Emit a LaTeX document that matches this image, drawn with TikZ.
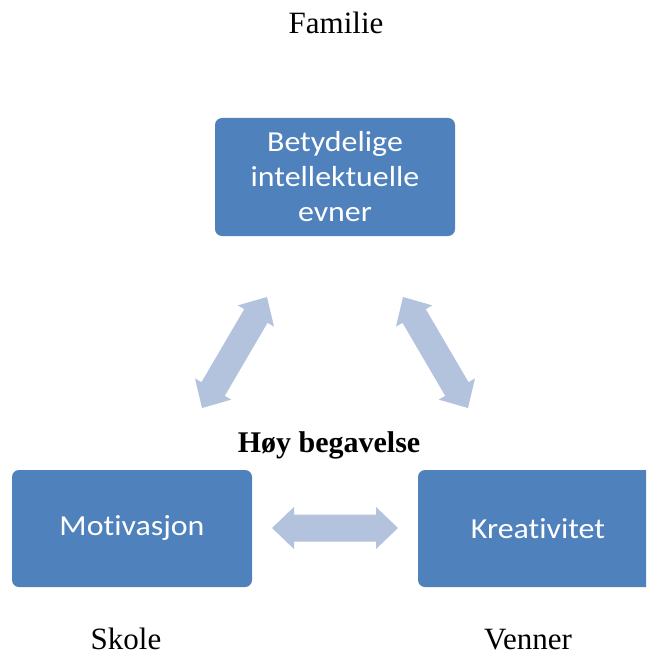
\documentclass[tikz,border=0pt]{standalone}
\usepackage{fontspec}
\setmainfont{Liberation Serif}
\newfontfamily\boxfont[Ligatures=NoCommon,FakeStretch=1.1]{Carlito}
\usetikzlibrary{calc}
\definecolor{boxblue}{HTML}{4F81BD}
\definecolor{arrowblue}{HTML}{B3C2DD}

% double-headed block arrow between two named tips
\newcommand{\blockarrow}[2]{%
  \fill[arrowblue]
    (#1)
    -- ($(#1)!22pt!(#2)!21pt!90:(#2)$)
    -- ($(#1)!22pt!(#2)!13.5pt!90:(#2)$)
    -- ($(#2)!22pt!(#1)!13.5pt!-90:(#1)$)
    -- ($(#2)!22pt!(#1)!21pt!-90:(#1)$)
    -- (#2)
    -- ($(#2)!22pt!(#1)!21pt!90:(#1)$)
    -- ($(#2)!22pt!(#1)!13.5pt!90:(#1)$)
    -- ($(#1)!22pt!(#2)!13.5pt!-90:(#2)$)
    -- ($(#1)!22pt!(#2)!21pt!-90:(#2)$)
    -- cycle;}

\begin{document}
\begin{tikzpicture}[x=1pt,y=-1pt,
  box/.style={fill=boxblue, rounded corners=7pt, minimum width=240pt,
    minimum height=117pt, inner sep=0pt, align=center, text=white,
    font=\boxfont\fontsize{29}{35}\selectfont},
  label/.style={anchor=base, inner sep=0pt, font=\fontsize{31}{36}\selectfont}]
  \useasboundingbox (0,0) rectangle (646,655);
  \clip (0,0) rectangle (646,655);

  % the three qualities
  \node[box, minimum height=118pt] (evner) at (335,177)
    {Betydelige\\intellektuelle\\evner};
  \node[box] (motiv) at (132,528.5) {Motivasjon};
  \node[box] (kreativ) at (538,528.5) {Kreativitet};

  % surrounding environments
  \node[label] (familie) at (336,34) {Familie};
  \node[label] (skole) at (126,649) {Skole};
  \node[label] (venner) at (528,649) {Venner};
  \node[label, font=\bfseries\fontsize{30}{36}\selectfont] (hoy) at (329,452)
    {Høy begavelse};

  % arrow tips
  \coordinate (l1) at (267,297);
  \coordinate (l2) at (202,408);
  \coordinate (r1) at (403,297);
  \coordinate (r2) at (468,408);
  \coordinate (h1) at (272,528);
  \coordinate (h2) at (398,528);

  \blockarrow{l1}{l2}
  \blockarrow{r1}{r2}
  \blockarrow{h1}{h2}
\end{tikzpicture}
\end{document}
